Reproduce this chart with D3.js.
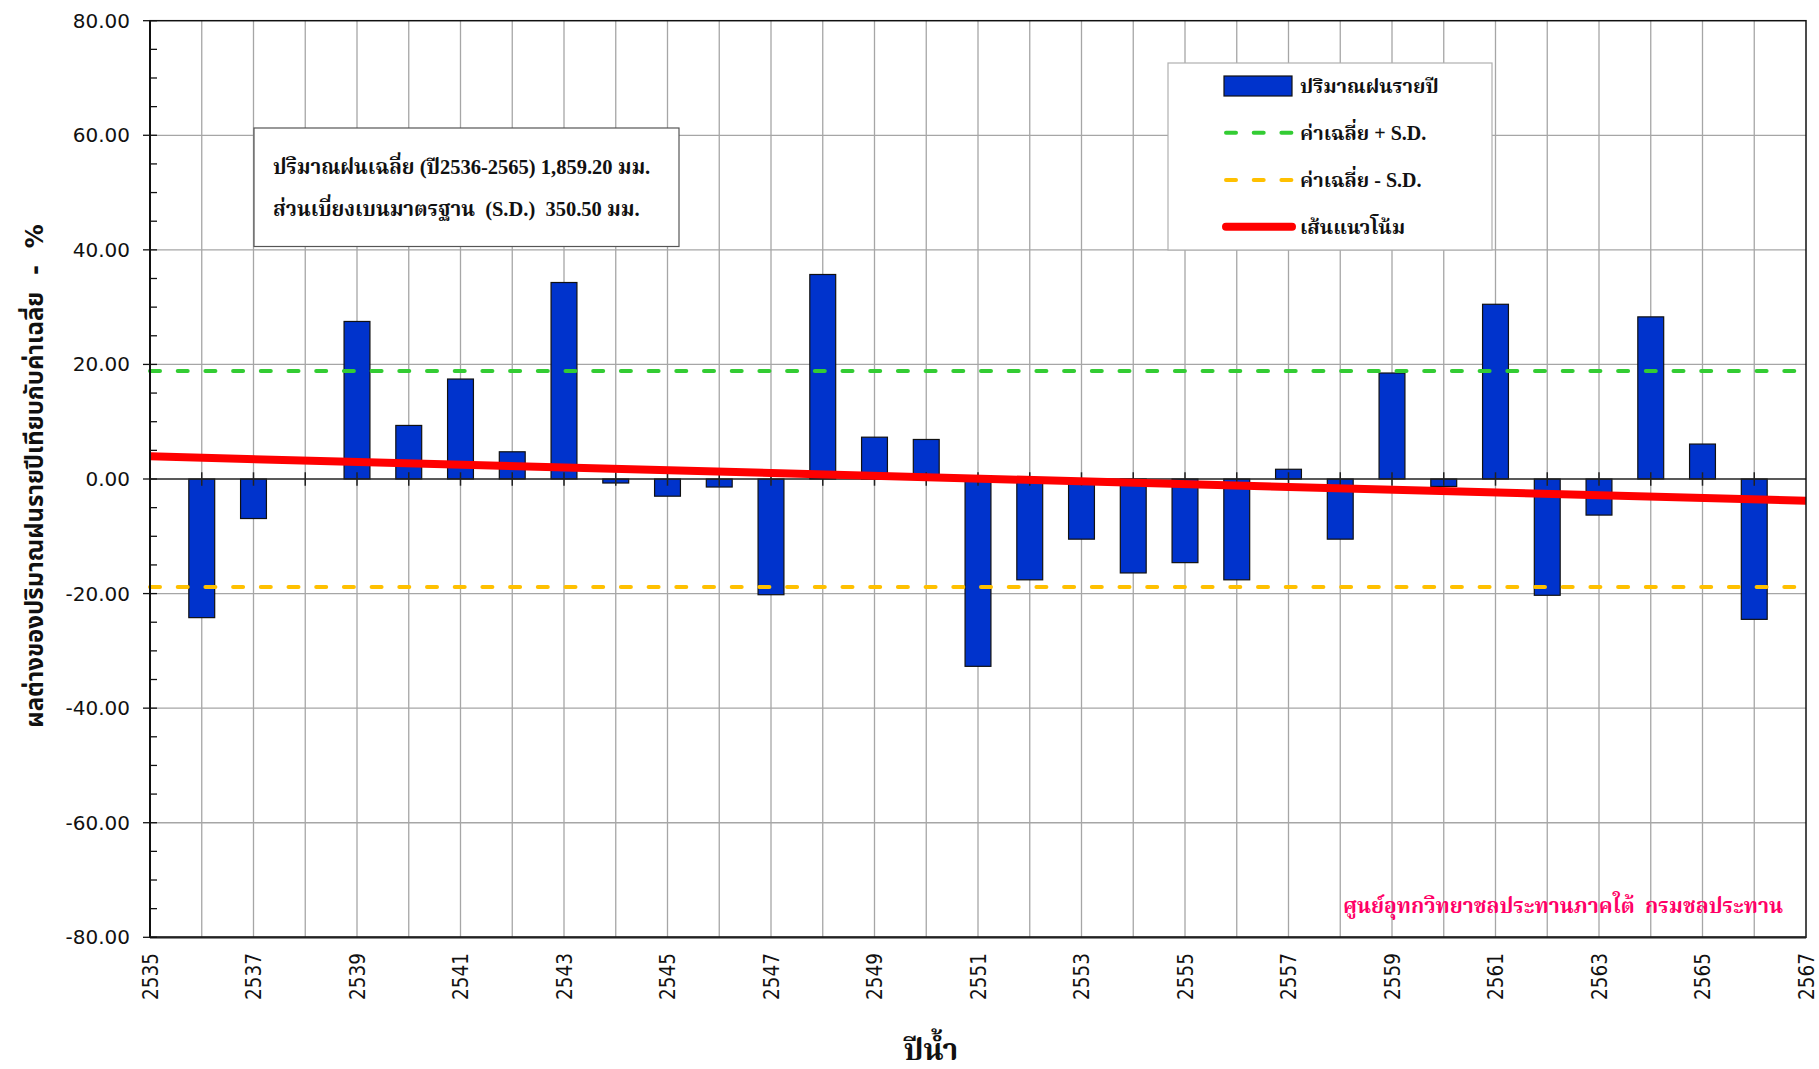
<!DOCTYPE html>
<html>
<head>
<meta charset="utf-8">
<script src="https://cdn.jsdelivr.net/npm/d3@7"></script>
<style>
  body { margin: 0; background: #fff; }
  svg { display: block; }
  text { white-space: pre; }
</style>
</head>
<body>
<svg id="chart"></svg>
<script>
// annual rainfall deviation from the 2536-2565 mean, in percent
const years = [2536, 2537, 2538, 2539, 2540, 2541, 2542, 2543, 2544, 2545,
               2546, 2547, 2548, 2549, 2550, 2551, 2552, 2553, 2554, 2555,
               2556, 2557, 2558, 2559, 2560, 2561, 2562, 2563, 2564, 2565, 2566];
const deviation = [-24.2, -6.9, null, 27.5, 9.35, 17.45, 4.75, 34.3, -0.7, -3.0,
                   -1.4, -20.2, 35.7, 7.3, 6.9, -32.7, -17.6, -10.5, -16.4, -14.6,
                   -17.6, 1.7, -10.5, 18.5, -1.3, 30.5, -20.3, -6.3, 28.3, 6.1, -24.5];

// mean +/- S.D. lines and trend line end points
const sdYears = [2535, 2567];
const meanPlusSD = [18.85, 18.85];
const meanMinusSD = [-18.85, -18.85];
const trendYears = [2535, 2567];
const trendValues = [3.95, -3.8];

const yTicks = [-80, -60, -40, -20, 0, 20, 40, 60, 80];
const xLabelYears = [2535, 2537, 2539, 2541, 2543, 2545, 2547, 2549, 2551,
                     2553, 2555, 2557, 2559, 2561, 2563, 2565, 2567];

const legendLabels = ["ปริมาณฝนรายปี", "ค่าเฉลี่ย + S.D.", "ค่าเฉลี่ย - S.D.", "เส้นแนวโน้ม"];
const infoLines = ["ปริมาณฝนเฉลี่ย (ปี2536-2565) 1,859.20 มม.",
                   "ส่วนเบี่ยงเบนมาตรฐาน  (S.D.)  350.50 มม."];
const yTitle = "ผลต่างของปริมาณฝนรายปีเทียบกับค่าเฉลี่ย  -  %";
const xTitle = "ปีน้ำ";
const credit = "ศูนย์อุทกวิทยาชลประทานภาคใต้  กรมชลประทาน";

const W = 1819, H = 1069;
const plotL = 150, plotR = 1806, plotT = 20.7, plotB = 937.3;

const serifThai = "'Liberation Serif', 'Noto Serif Thai', 'Noto Sans Thai', serif";
const sansThai = "'DejaVu Sans', 'Noto Sans Thai', 'Noto Sans', sans-serif";

const svg = d3.select("#chart").attr("width", W).attr("height", H);

const x = d3.scaleLinear().domain([2535, 2567]).range([plotL, plotR]);
const y = d3.scaleLinear().domain([-80, 80]).range([plotB, plotT]);

const barW = (x(1) - x(0)) * 0.5;

// grid
svg.append("g")
  .selectAll("line")
  .data(d3.range(2536, 2567))
  .join("line")
  .attr("x1", d => x(d)).attr("x2", d => x(d))
  .attr("y1", plotT).attr("y2", plotB)
  .attr("stroke", "#a6a6a6").attr("stroke-width", 1.3);

svg.append("g")
  .selectAll("line")
  .data(yTicks.filter(d => d !== 0 && Math.abs(d) !== 80))
  .join("line")
  .attr("x1", plotL).attr("x2", plotR)
  .attr("y1", d => y(d)).attr("y2", d => y(d))
  .attr("stroke", "#a6a6a6").attr("stroke-width", 1.3);

// bars
const barData = years.map((yr, i) => ({ yr, v: deviation[i] })).filter(d => d.v !== null);
svg.append("g")
  .selectAll("rect")
  .data(barData)
  .join("rect")
  .attr("x", d => x(d.yr) - barW / 2)
  .attr("width", barW)
  .attr("y", d => y(Math.max(0, d.v)))
  .attr("height", d => Math.abs(y(d.v) - y(0)))
  .attr("fill", "#0033cc")
  .attr("stroke", "#111")
  .attr("stroke-width", 1.2);

// zero line with crossing ticks
svg.append("line")
  .attr("x1", plotL).attr("x2", plotR)
  .attr("y1", y(0)).attr("y2", y(0))
  .attr("stroke", "#222").attr("stroke-width", 1.5);

svg.append("g")
  .selectAll("line")
  .data(d3.range(2536, 2567))
  .join("line")
  .attr("x1", d => x(d)).attr("x2", d => x(d))
  .attr("y1", y(0) - 6.7).attr("y2", y(0) + 6.7)
  .attr("stroke", "#222").attr("stroke-width", 1.5);

// S.D. lines
const line = d3.line().x(d => x(d[0])).y(d => y(d[1]));

svg.append("path")
  .datum(d3.zip(sdYears, meanPlusSD))
  .attr("d", line)
  .attr("fill", "none").attr("stroke", "#33cc33").attr("stroke-width", 4)
  .attr("stroke-linecap", "round").attr("stroke-dasharray", "10,17.7");

svg.append("path")
  .datum(d3.zip(sdYears, meanMinusSD))
  .attr("d", line)
  .attr("fill", "none").attr("stroke", "#ffc000").attr("stroke-width", 4)
  .attr("stroke-linecap", "round").attr("stroke-dasharray", "10,17.7");

// trend line
svg.append("path")
  .datum(d3.zip(trendYears, trendValues))
  .attr("d", line)
  .attr("fill", "none").attr("stroke", "#ff0000").attr("stroke-width", 8);

// frame
svg.append("rect")
  .attr("x", plotL).attr("y", plotT)
  .attr("width", plotR - plotL).attr("height", plotB - plotT)
  .attr("fill", "none").attr("stroke", "#111").attr("stroke-width", 1.5);

svg.append("line")
  .attr("x1", plotL).attr("x2", plotL).attr("y1", plotT).attr("y2", plotB)
  .attr("stroke", "#111").attr("stroke-width", 2);
svg.append("line")
  .attr("x1", plotL).attr("x2", plotR).attr("y1", plotB).attr("y2", plotB)
  .attr("stroke", "#222").attr("stroke-width", 2.2);

// y axis: major ticks cross, minor ticks inside
svg.append("g")
  .selectAll("line")
  .data(d3.range(-80, 81, 5).filter(d => d % 20 !== 0))
  .join("line")
  .attr("x1", plotL).attr("x2", plotL + 7)
  .attr("y1", d => y(d)).attr("y2", d => y(d))
  .attr("stroke", "#111").attr("stroke-width", 1.3);

svg.append("g")
  .selectAll("line")
  .data(yTicks)
  .join("line")
  .attr("x1", plotL - 7).attr("x2", plotL + 7)
  .attr("y1", d => y(d)).attr("y2", d => y(d))
  .attr("stroke", "#111").attr("stroke-width", 1.3);

svg.append("g")
  .selectAll("text")
  .data(yTicks)
  .join("text")
  .attr("x", plotL - 20)
  .attr("y", d => y(d) + 7)
  .attr("text-anchor", "end")
  .attr("font-family", "'DejaVu Sans', sans-serif")
  .attr("font-size", 20)
  .attr("fill", "#111")
  .text(d => d.toFixed(2));

// x labels, rotated
svg.append("g")
  .selectAll("text")
  .data(xLabelYears)
  .join("text")
  .attr("transform", d => `translate(${x(d) + 7.5},953) rotate(-90)`)
  .attr("text-anchor", "end")
  .attr("font-family", "'DejaVu Sans Condensed', 'DejaVu Sans', sans-serif")
  .attr("font-size", 20.5)
  .attr("fill", "#111")
  .text(d => d);

// axis titles
svg.append("text")
  .attr("transform", `translate(43,${(235 + 717) / 2}) rotate(-90)`)
  .attr("text-anchor", "middle")
  .attr("font-family", sansThai)
  .attr("font-weight", "bold")
  .attr("font-size", 24)
  .attr("fill", "#111")
  .text(yTitle);

svg.append("text")
  .attr("x", 931).attr("y", 1060)
  .attr("text-anchor", "middle")
  .attr("font-family", serifThai)
  .attr("font-weight", "bold")
  .attr("font-size", 30)
  .attr("fill", "#111")
  .text(xTitle);

// info box
svg.append("rect")
  .attr("x", 254).attr("y", 128)
  .attr("width", 425).attr("height", 118.5)
  .attr("fill", "#fff").attr("stroke", "#555").attr("stroke-width", 1.2);

svg.append("g")
  .selectAll("text")
  .data(infoLines)
  .join("text")
  .attr("x", 273)
  .attr("y", (d, i) => 174 + i * 42)
  .attr("font-family", serifThai)
  .attr("font-weight", "bold")
  .attr("font-size", 20.5)
  .attr("fill", "#111")
  .text(d => d);

// legend
const legend = svg.append("g");
legend.append("rect")
  .attr("x", 1168).attr("y", 63)
  .attr("width", 324).attr("height", 187)
  .attr("fill", "#fff").attr("stroke", "#b0b0b0").attr("stroke-width", 1.2);

const rowY = [86, 132.7, 180, 226.7];

legend.append("rect")
  .attr("x", 1224).attr("y", rowY[0] - 10)
  .attr("width", 68).attr("height", 20)
  .attr("fill", "#0033cc").attr("stroke", "#111").attr("stroke-width", 1.2);

legend.append("line")
  .attr("x1", 1226).attr("x2", 1292).attr("y1", rowY[1]).attr("y2", rowY[1])
  .attr("stroke", "#33cc33").attr("stroke-width", 4)
  .attr("stroke-linecap", "round").attr("stroke-dasharray", "10,17.7");

legend.append("line")
  .attr("x1", 1226).attr("x2", 1292).attr("y1", rowY[2]).attr("y2", rowY[2])
  .attr("stroke", "#ffc000").attr("stroke-width", 4)
  .attr("stroke-linecap", "round").attr("stroke-dasharray", "10,17.7");

legend.append("line")
  .attr("x1", 1226).attr("x2", 1292).attr("y1", rowY[3]).attr("y2", rowY[3])
  .attr("stroke", "#ff0000").attr("stroke-width", 8)
  .attr("stroke-linecap", "round");

legend.selectAll("text")
  .data(legendLabels)
  .join("text")
  .attr("x", 1300)
  .attr("y", (d, i) => rowY[i] + 7)
  .attr("font-family", serifThai)
  .attr("font-weight", "bold")
  .attr("font-size", 20)
  .attr("fill", "#111")
  .text(d => d);

// credit
svg.append("text")
  .attr("x", 1783).attr("y", 913)
  .attr("text-anchor", "end")
  .attr("font-family", serifThai)
  .attr("font-weight", "bold")
  .attr("font-size", 21)
  .attr("fill", "#ff0066")
  .text(credit);
</script>
</body>
</html>
